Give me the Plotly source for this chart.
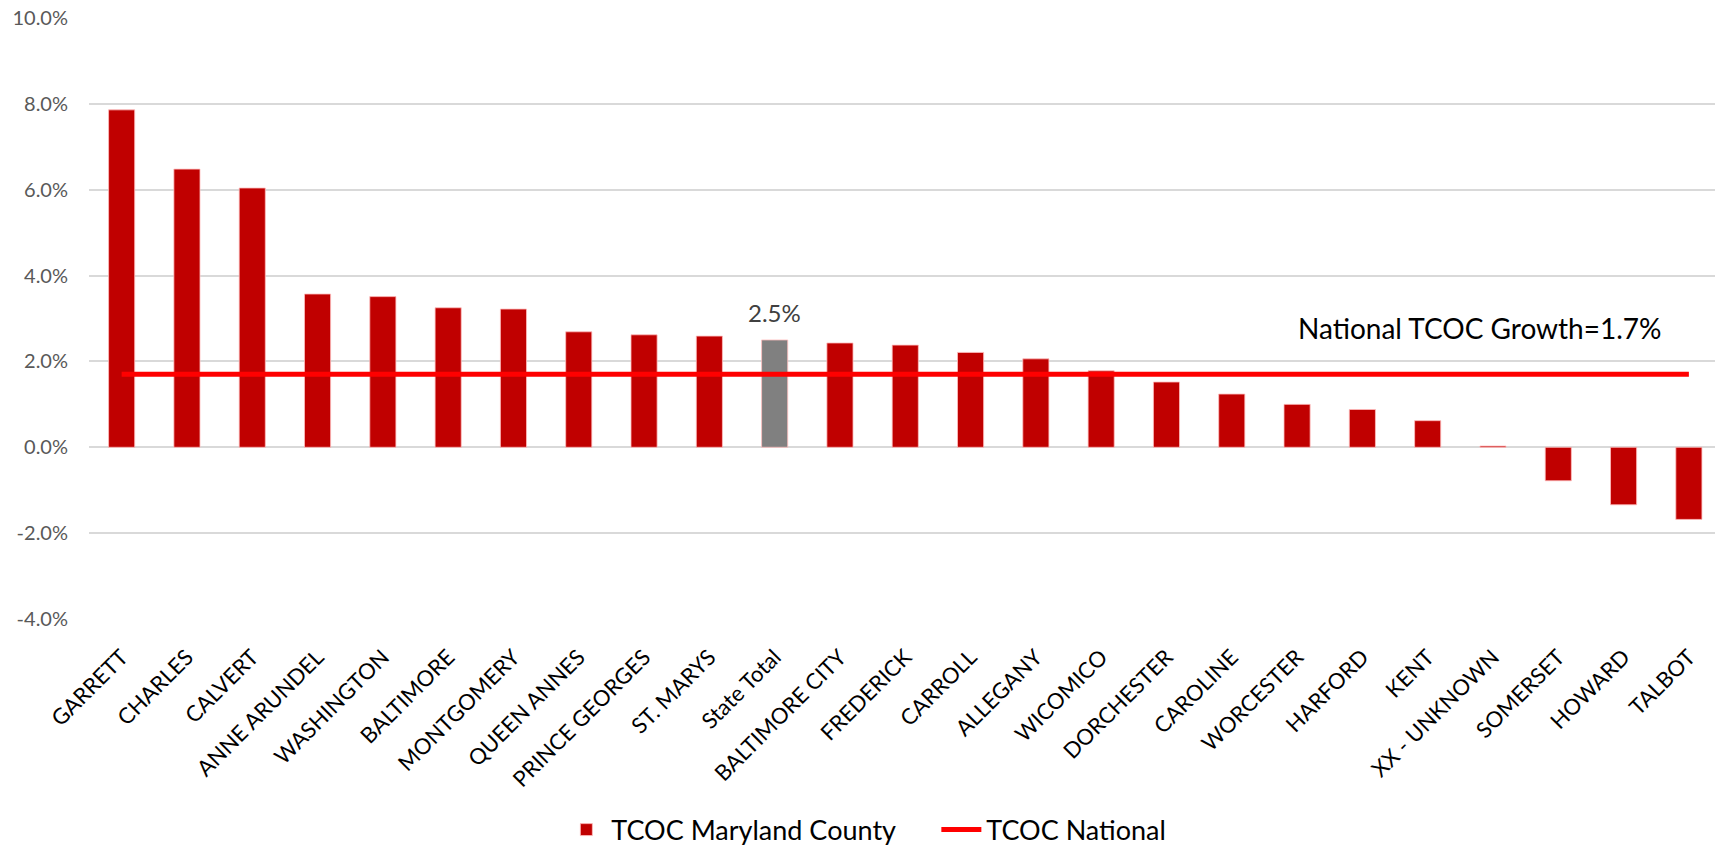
import plotly.graph_objects as go

# Total cost of care growth by Maryland county (percent)
counties = [
    "GARRETT", "CHARLES", "CALVERT", "ANNE ARUNDEL", "WASHINGTON", "BALTIMORE",
    "MONTGOMERY", "QUEEN ANNES", "PRINCE GEORGES", "ST. MARYS", "State Total",
    "BALTIMORE CITY", "FREDERICK", "CARROLL", "ALLEGANY", "WICOMICO",
    "DORCHESTER", "CAROLINE", "WORCESTER", "HARFORD", "KENT", "XX - UNKNOWN",
    "SOMERSET", "HOWARD", "TALBOT",
]
county_growth = [
    7.86, 6.48, 6.04, 3.57, 3.51, 3.25,
    3.22, 2.69, 2.62, 2.59, 2.5,
    2.43, 2.38, 2.21, 2.06, 1.78,
    1.52, 1.24, 1.0, 0.88, 0.62, 0.03,
    -0.78, -1.34, -1.68,
]
national_growth = 1.7
y_ticks = [-4, -2, 0, 2, 4, 6, 8, 10]

FONT = "Lato"
COUNTY_RED = "#C00000"
TOTAL_GRAY = "#808080"
TOTAL_LABEL = "State Total"

bar_colors = [TOTAL_GRAY if c == TOTAL_LABEL else COUNTY_RED for c in counties]
state_total = county_growth[counties.index(TOTAL_LABEL)]

fig = go.Figure()
fig.add_trace(go.Bar(
    x=counties,
    y=county_growth,
    name="TCOC Maryland County",
    marker=dict(color=bar_colors, line=dict(color="rgba(255,190,190,0.8)", width=1)),
))
fig.add_trace(go.Scatter(
    x=counties,
    y=[national_growth] * len(counties),
    name="TCOC National",
    mode="lines",
    line=dict(color="#FF0000", width=5),
))

# value label above the state total bar
fig.add_annotation(
    x=TOTAL_LABEL, y=state_total, yshift=27, yanchor="middle",
    text=f"{state_total:.1f}%",
    showarrow=False,
    font=dict(family=FONT, size=24, color="#404040"),
)

fig.add_annotation(
    x=20.8, y=national_growth, yshift=46,
    text=f"National TCOC Growth={national_growth:.1f}%",
    showarrow=False,
    font=dict(family=FONT, size=28, color="#000000"),
)

fig.update_layout(
    width=1715, height=847,
    margin=dict(l=89, r=0, t=18, b=228),
    paper_bgcolor="white",
    plot_bgcolor="white",
    bargap=0.6,
    showlegend=True,
    legend=dict(
        orientation="h",
        x=0.2905, xanchor="left",
        yref="container",
        y=0.020, yanchor="middle",
        font=dict(family=FONT, size=27, color="#000000"),
        itemwidth=40,
        entrywidth=320,
        entrywidthmode="pixels",
        traceorder="normal",
    ),
    xaxis=dict(
        range=[-0.5, 24.4],
        tickangle=-45,
        tickfont=dict(family=FONT, size=22, color="#000000"),
        showgrid=False,
        showline=False,
        ticks="",
        ticklabelstandoff=20,
    ),
    yaxis=dict(
        range=[-4, 10],
        tickvals=y_ticks,
        ticktext=[f"{v:.1f}%" for v in y_ticks],
        tickfont=dict(family=FONT, size=20, color="#595959"),
        showgrid=True,
        gridcolor="#D9D9D9",
        gridwidth=1.5,
        zeroline=True,
        zerolinecolor="#D9D9D9",
        zerolinewidth=1.5,
        showline=False,
        ticks="",
        ticklabelstandoff=20,
    ),
)

fig.write_html("out.html")
